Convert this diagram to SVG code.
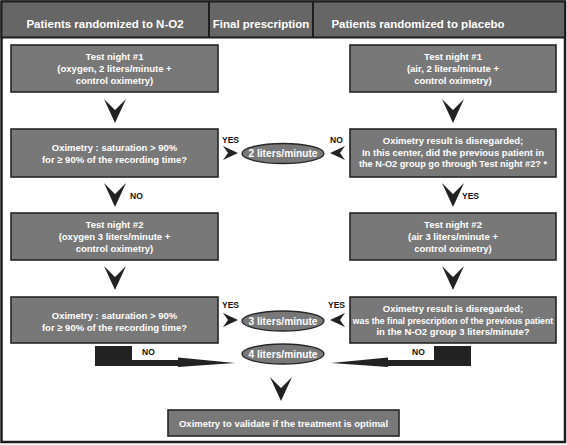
<svg xmlns="http://www.w3.org/2000/svg" width="567" height="445" viewBox="0 0 567 445">
<style>
.box{fill:#787878;stroke:#262626;stroke-width:1.6}
.ell{fill:#787878;stroke:#262626;stroke-width:1.3}
.t{font-family:"Liberation Sans",Arial,sans-serif;font-weight:bold;fill:#fff;font-size:9.5px;text-anchor:middle}
.h{font-family:"Liberation Sans",Arial,sans-serif;font-weight:bold;fill:#fff;font-size:11.5px;text-anchor:middle}
.e{font-family:"Liberation Sans",Arial,sans-serif;font-weight:bold;fill:#fff;font-size:10.2px;text-anchor:middle}
.l{font-family:"Liberation Sans",Arial,sans-serif;font-weight:bold;fill:#111;font-size:8.5px}
.arr{fill:#222}
</style>
<defs>
<path id="cd" d="M-11,0 L0,11 L11,0 L0,24 Z"/>
<path id="cr" d="M0,-7 L15,0 L0,7 L5,0 Z"/>
<path id="cl" d="M0,-7 L-15,0 L0,7 L-5,0 Z"/>
</defs>
<rect x="0" y="0" width="567" height="445" fill="#fff"/>
<g id="frame">
<rect x="1.5" y="1.5" width="563.5" height="440.5" fill="#fff" stroke="#1e1e1e" stroke-width="2.5"/>
<rect x="1.5" y="1.5" width="563.5" height="36" fill="#666" stroke="#1e1e1e" stroke-width="2"/>
<line x1="209" y1="1.5" x2="209" y2="37.5" stroke="#1e1e1e" stroke-width="2"/>
<line x1="313" y1="1.5" x2="313" y2="37.5" stroke="#1e1e1e" stroke-width="2"/>
</g>
<g id="header">
<text class="h" x="105" y="28">Patients randomized to N-O2</text>
<text class="h" x="261" y="28">Final prescription</text>
<text class="h" x="418" y="28">Patients randomized to placebo</text>
</g>
<g id="L1"><rect class="box" x="11" y="45" width="207" height="47"/>
<text class="t" x="114.5" y="59.5">Test night #1</text>
<text class="t" x="114.5" y="71.5">(oxygen, 2 liters/minute +</text>
<text class="t" x="114.5" y="83.5">control oximetry)</text></g>
<g id="L2"><rect class="box" x="11" y="129" width="207" height="48"/>
<text class="t" x="114.5" y="151">Oximetry : saturation &gt; 90%</text>
<text class="t" x="114.5" y="163">for ≥ 90% of the recording time?</text></g>
<g id="L3"><rect class="box" x="11" y="213" width="207" height="47"/>
<text class="t" x="114.5" y="228">Test night #2</text>
<text class="t" x="114.5" y="240">(oxygen 3 liters/minute +</text>
<text class="t" x="114.5" y="252">control oximetry)</text></g>
<g id="L4"><rect class="box" x="11" y="297" width="207" height="46"/>
<text class="t" x="114.5" y="318.5">Oximetry : saturation &gt; 90%</text>
<text class="t" x="114.5" y="330.5">for ≥ 90% of the recording time?</text></g>
<g id="R1"><rect class="box" x="350" y="45" width="206" height="47"/>
<text class="t" x="453" y="59.5">Test night #1</text>
<text class="t" x="453" y="71.5">(air, 2 liters/minute +</text>
<text class="t" x="453" y="83.5">control oximetry)</text></g>
<g id="R2"><rect class="box" x="350" y="129" width="206" height="48"/>
<text class="t" x="453" y="144">Oximetry result is disregarded;</text>
<text class="t" x="453" y="155.5">In this center, did the previous patient in</text>
<text class="t" x="453" y="167" style="font-size:9.2px">the N-O2 group go through Test night #2? *</text></g>
<g id="R3"><rect class="box" x="350" y="213" width="206" height="47"/>
<text class="t" x="453" y="228">Test night #2</text>
<text class="t" x="453" y="240">(air 3 liters/minute +</text>
<text class="t" x="453" y="252">control oximetry)</text></g>
<g id="R4"><rect class="box" x="350" y="297" width="206" height="46"/>
<text class="t" x="453" y="312">Oximetry result is disregarded;</text>
<text class="t" x="453" y="323.5" style="font-size:8.7px">was the final prescription of the previous patient</text>
<text class="t" x="453" y="335">in the N-O2 group 3 liters/minute?</text></g>
<g id="E2"><ellipse class="ell" cx="283" cy="153.5" rx="41" ry="10"/>
<text class="e" x="283" y="157.2">2 liters/minute</text></g>
<g id="E3"><ellipse class="ell" cx="283" cy="321" rx="41" ry="10"/>
<text class="e" x="283" y="324.7">3 liters/minute</text></g>
<g id="E4"><ellipse class="ell" cx="283" cy="354" rx="41" ry="10"/>
<text class="e" x="283" y="357.7">4 liters/minute</text></g>
<g id="F"><rect class="box" x="168" y="410" width="231" height="26"/>
<text class="t" x="283.5" y="426.5">Oximetry to validate if the treatment is optimal</text></g>
<g id="connectors">
<use href="#cd" class="arr" x="115" y="99"/>
<use href="#cd" class="arr" x="115" y="183"/>
<use href="#cd" class="arr" x="115" y="266"/>
<use href="#cd" class="arr" x="453" y="99"/>
<use href="#cd" class="arr" x="453" y="183"/>
<use href="#cd" class="arr" x="453" y="266"/>
<use href="#cd" class="arr" x="281" y="377"/>
<use href="#cr" class="arr" x="223" y="153"/>
<use href="#cr" class="arr" x="223" y="320"/>
<use href="#cl" class="arr" x="345" y="153"/>
<use href="#cl" class="arr" x="345" y="320"/>
<polygon class="arr" points="95,346 132,346 132,360 178,360 178,357.5 235,363 178,367 178,366 95,366"/>
<polygon class="arr" points="471,346 434,346 434,360 388,360 388,357.5 331,363 388,367 388,366 471,366"/>
<text class="l" x="222" y="143">YES</text>
<text class="l" x="330" y="143">NO</text>
<text class="l" x="130" y="199">NO</text>
<text class="l" x="462" y="199">YES</text>
<text class="l" x="222" y="308">YES</text>
<text class="l" x="328" y="308">YES</text>
<text class="l" x="142" y="355">NO</text>
<text class="l" x="412" y="355">NO</text>
</g>
</svg>
